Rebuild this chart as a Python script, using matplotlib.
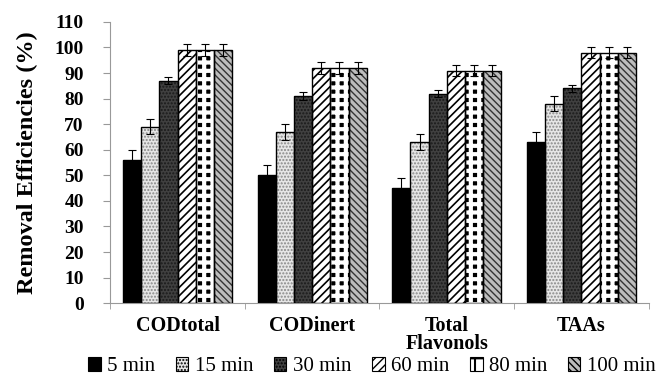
import matplotlib.pyplot as plt
import numpy as np

plt.rcParams['font.family'] = ['Liberation Serif', 'DejaVu Serif']
plt.rcParams['hatch.linewidth'] = 1.0

categories = ["CODtotal", "CODinert", "Total\nFlavonols", "TAAs"]
series = ["5 min", "15 min", "30 min", "60 min", "80 min", "100 min"]

v5 = [56, 50, 45, 63]
v15 = [69, 67, 63, 78]
v30 = [87, 81, 82, 84]
v60 = [99, 92, 91, 98]
v80 = [99, 92, 91, 98]
v100 = [99, 92, 91, 98]

e5 = [4, 4, 4, 4]
e15 = [3, 3, 3, 3]
e30 = [1.3, 1.5, 1.5, 1.3]
e60 = [2.3, 2.3, 2, 2]
e80 = [2.3, 2.3, 2, 2]
e100 = [2.3, 2.3, 2, 2]

values = [v5, v15, v30, v60, v80, v100]
errors = [e5, e15, e30, e60, e80, e100]

# fill colour, hatch, hatch colour, hatch width
styles = [
    ('black', '', 'black', 1.0),
    ('#e6e6e6', '.....', '#888888', 1.0),
    ('#404040', '.....', '#1a1a1a', 1.0),
    ('white', '////', 'black', 1.2),
    ('black', '++', 'white', 3.0),
    ('#bdbdbd', '\\\\\\\\\\', '#333333', 1.0),
]

f, ax = plt.subplots()
f.set_size_inches(6.64, 3.78)
f.subplots_adjust(left=0.166, right=0.977, bottom=0.198, top=0.942)

x = np.arange(len(categories))
w = 0.81 / 6
for i in range(6):
    pos = x - 0.405 + w * (i + 0.5)
    fc, hatch, hc, hlw = styles[i]
    with plt.rc_context({'hatch.linewidth': hlw}):
        bars = ax.bar(pos, values[i], w, color=fc, edgecolor=hc, hatch=hatch,
                      linewidth=0, label=series[i], zorder=2)
    for b in bars:
        if hasattr(b, 'set_hatch_linewidth'):
            b.set_hatch_linewidth(hlw)
    ax.bar(pos, values[i], w, color='none', edgecolor='black', linewidth=1.0, zorder=3)
    ax.errorbar(pos, values[i], yerr=errors[i], fmt='none', ecolor='black',
                elinewidth=0.8, capsize=3, capthick=0.8, zorder=4)

ax.set_xlim(-0.5, 3.5)
ax.set_ylim(0, 110)
ax.set_yticks(np.arange(0, 111, 10))
ax.set_yticklabels([str(t) for t in range(0, 111, 10)], fontsize=14, fontweight='bold')
ax.set_xticks(x)
ax.set_xticklabels(categories, fontsize=14.5, fontweight='bold', linespacing=0.9)
ax.set_xticks(np.arange(-0.5, 4.0, 1.0), minor=True)
ax.tick_params(axis='x', which='major', length=0, pad=9)
ax.tick_params(axis='x', which='minor', length=4, color='#999999')
ax.tick_params(axis='y', length=5, color='#999999', pad=14)
ax.set_ylabel("Removal Efficiencies (%)", fontsize=17.5, fontweight='bold', labelpad=12)

for s in ['top', 'right']:
    ax.spines[s].set_visible(False)
for s in ['left', 'bottom']:
    ax.spines[s].set_color('#999999')

handles, labels = ax.get_legend_handles_labels()
leg = f.legend(handles, labels, loc='lower center', bbox_to_anchor=(0.56, -0.045), ncol=6,
               frameon=False, fontsize=15, handlelength=0.6, handleheight=0.6,
               handletextpad=0.3, columnspacing=1.0)
for h in leg.legend_handles:
    h.set_edgecolor('black')
    h.set_linewidth(0.8)
# 80 min key: white face with a black centre dot look
h80 = leg.legend_handles[4]
h80.set_facecolor('white')
h80.set_hatch('+')
if hasattr(h80, 'set_hatch_linewidth'):
    h80.set_hatch_linewidth(1.5)

f.savefig("out.png", dpi=100)
